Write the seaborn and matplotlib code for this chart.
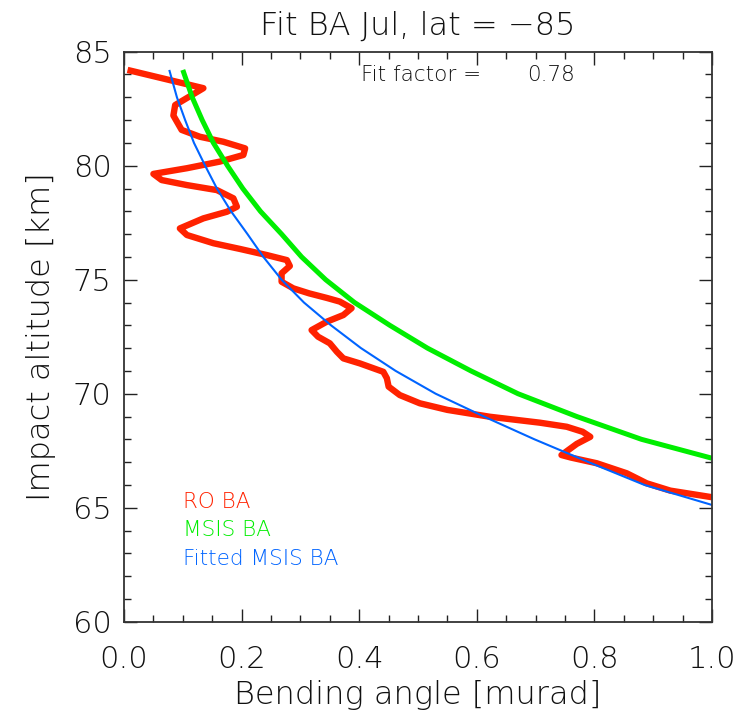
import matplotlib
matplotlib.use("Agg")
import matplotlib.pyplot as plt
from matplotlib.ticker import MultipleLocator, FormatStrFormatter
import seaborn as sns
import pandas as pd

# Bending angle profiles (murad) against impact altitude (km)
ro_alt = [84.2, 83.4, 82.66, 82.2, 81.57, 81.27, 81.05, 80.76, 80.47, 80.18,
          79.89, 79.64, 79.37, 79.15, 78.93, 78.57, 78.2, 77.98, 77.69, 77.25,
          76.96, 76.6, 76.35, 76.08, 75.86, 75.6, 75.28, 74.91, 74.62, 74.4,
          74.2, 74.04, 73.75, 73.45, 73.16, 72.79, 72.5, 72.21, 71.84, 71.55,
          71.33, 70.96, 70.68, 70.31, 69.94, 69.58, 69.29, 68.99, 68.73, 68.55,
          68.33, 68.11, 67.8, 67.31, 67.2, 66.95, 66.51, 66.07, 65.75, 65.46]
ro_ba = [0.006, 0.135, 0.087, 0.084, 0.098, 0.129, 0.169, 0.206, 0.203, 0.163,
         0.107, 0.050, 0.064, 0.107, 0.158, 0.186, 0.192, 0.175, 0.135, 0.095,
         0.107, 0.152, 0.197, 0.243, 0.277, 0.282, 0.268, 0.268, 0.288, 0.315,
         0.345, 0.367, 0.387, 0.373, 0.345, 0.319, 0.330, 0.350, 0.362, 0.373,
         0.401, 0.441, 0.447, 0.450, 0.469, 0.503, 0.550, 0.622, 0.707, 0.753,
         0.780, 0.793, 0.770, 0.744, 0.760, 0.804, 0.855, 0.889, 0.929, 1.000]

msis_alt = [84.2, 83.0, 82.0, 81.0, 80.0, 79.0, 78.0, 77.0, 76.0, 75.0,
            74.0, 73.0, 72.0, 71.0, 70.0, 69.0, 68.0, 67.17]
msis_ba = [0.100, 0.116, 0.133, 0.152, 0.176, 0.202, 0.232, 0.268, 0.302, 0.343,
           0.392, 0.452, 0.516, 0.590, 0.670, 0.770, 0.880, 1.000]

fit_alt = [84.2, 83.0, 82.0, 81.0, 80.0, 79.0, 78.0, 77.0, 76.0, 75.0,
           74.0, 73.0, 72.0, 71.0, 70.0, 69.0, 68.0, 67.0, 66.0, 65.12]
fit_ba = [0.077, 0.090, 0.104, 0.119, 0.138, 0.158, 0.182, 0.210, 0.237, 0.268,
          0.306, 0.352, 0.403, 0.462, 0.530, 0.612, 0.698, 0.790, 0.885, 1.000]

fit_factor = 0.78
series_names = ["RO BA", "MSIS BA", "Fitted MSIS BA"]
series_colors = ["#ff2200", "#00ee00", "#0064ff"]
series_widths = [4.6, 3.6, 1.5]

sns.set_theme(style="ticks")
plt.rcParams["font.family"] = ["DejaVu Sans"]
plt.rcParams["font.weight"] = 200
plt.rcParams["axes.titleweight"] = 200
plt.rcParams["axes.labelweight"] = 200

ink = "#111111"

fig = plt.figure(figsize=(7.39, 7.2), dpi=100)
ax = fig.add_axes([0.1678, 0.1365, 0.7957, 0.7917])

profiles = [(ro_ba, ro_alt), (msis_ba, msis_alt), (fit_ba, fit_alt)]
for (ba, alt), name, col, lw in zip(profiles, series_names, series_colors, series_widths):
    df = pd.DataFrame({"ba": ba, "alt": alt})
    sns.lineplot(data=df, x="ba", y="alt", sort=False, estimator=None,
                 color=col, linewidth=lw, ax=ax,
                 solid_joinstyle="round", solid_capstyle="butt")

ax.set_xlim(0.0, 1.0)
ax.set_ylim(60, 85)
ax.xaxis.set_major_locator(MultipleLocator(0.2))
ax.xaxis.set_minor_locator(MultipleLocator(0.05))
ax.yaxis.set_major_locator(MultipleLocator(5))
ax.yaxis.set_minor_locator(MultipleLocator(1))
ax.xaxis.set_major_formatter(FormatStrFormatter("%.1f"))
ax.tick_params(which="both", direction="in", top=True, right=True,
               color="#222222", labelcolor=ink, width=1.0)
ax.tick_params(which="major", length=9.5, labelsize=22)
ax.tick_params(which="minor", length=5)
ax.tick_params(axis="x", which="major", pad=17)
ax.tick_params(axis="y", which="major", pad=9)
for s in ax.spines.values():
    s.set_linewidth(1.3)
    s.set_color("#333333")

ax.set_xlabel("Bending angle [murad]", fontsize=23, fontweight=200, labelpad=4, color=ink)
ax.set_ylabel("Impact altitude [km]", fontsize=23, fontweight=200, labelpad=12, color=ink)
ax.set_title("Fit BA Jul, lat = \u221285", fontsize=23, fontweight=200, pad=12, color=ink)

ax.text(0.403, 0.949, "Fit factor =", transform=ax.transAxes, fontsize=15.5,
        fontweight=200, va="baseline", color=ink)
ax.text(0.685, 0.949, f"{fit_factor:.2f}", transform=ax.transAxes, fontsize=15.5,
        fontweight=200, va="baseline", color=ink)

legend_y = [0.200, 0.150, 0.100]
for name, col, yy in zip(series_names, series_colors, legend_y):
    ax.text(0.101, yy, name, transform=ax.transAxes, fontsize=15.5,
            fontweight=200, va="baseline", color=col)

fig.savefig("out.png", dpi=100, facecolor="white")
